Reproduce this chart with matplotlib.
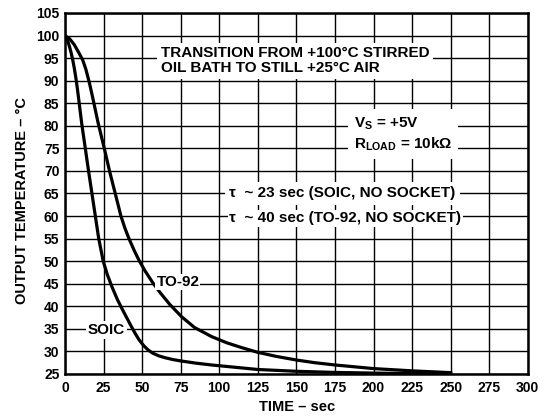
import matplotlib
matplotlib.use('Agg')
import matplotlib.pyplot as plt

plt.rcParams['font.family'] = ['Liberation Sans', 'DejaVu Sans']
plt.rcParams['mathtext.fontset'] = 'custom'
plt.rcParams['mathtext.rm'] = 'Liberation Sans:bold'
plt.rcParams['mathtext.bf'] = 'Liberation Sans:bold'

# cooling curves (time in s, temperature in °C)
soic_t = [0, 1, 2, 3, 4, 5, 6, 7, 8, 9, 10, 11, 13.2, 15.3, 17.5, 19.7, 21.9,
          24.8, 27.5, 30.5, 34, 38, 42, 45, 48, 51, 54, 57, 61, 65, 70, 75,
          85, 95, 110, 125, 150, 175, 200, 225, 250]
soic_temp = [100, 99.4, 98.6, 97.5, 96.2, 94.7, 92.9, 90.8, 88.4, 85.7, 82.9, 80.2, 75, 70, 65, 60, 55,
             50, 47, 44.3, 41.5, 38.8, 36.2, 34.3, 32.6, 31.3, 30.3, 29.6, 29.0, 28.6, 28.2, 27.9,
             27.4, 27.0, 26.5, 26.0, 25.6, 25.35, 25.2, 25.1, 25.0]

to92_t = [0, 3, 6, 9, 11.5, 13.5, 15.8, 17.9, 21.4, 25.5, 28.9, 32.6, 36.3, 39,
          41.5, 45, 48, 52, 57, 62, 68, 75.6, 84, 95, 105, 115, 125, 137, 150,
          162, 175, 200, 225, 250]
to92_temp = [100, 99.3, 98, 96.2, 94.6, 92.6, 89.6, 86.4, 80.8, 75, 70, 65, 60, 57.2,
             55, 52.3, 50.2, 47.8, 45.2, 42.9, 40.4, 37.7, 35.3, 33.3, 31.9, 30.8, 29.8, 28.9, 28.1,
             27.5, 27.0, 26.2, 25.7, 25.3]

x_ticks = list(range(0, 301, 25))
y_ticks = list(range(25, 106, 5))

fig = plt.figure(figsize=(5.55, 4.19), dpi=100)
ax = fig.add_axes([0.117, 0.1074, 0.834, 0.8616])

ax.plot(soic_t, soic_temp, color='black', lw=2.3, zorder=4,
        solid_joinstyle='round')
ax.plot(to92_t, to92_temp, color='black', lw=2.3, zorder=4,
        solid_joinstyle='round')

ax.set_xlim(0, 300)
ax.set_ylim(25, 105)
ax.set_xticks(x_ticks)
ax.set_yticks(y_ticks)
ax.grid(True, color='black', lw=1.0)
ax.set_axisbelow(True)
ax.tick_params(length=0, labelsize=10)
ax.tick_params(axis='x', pad=5)
ax.tick_params(axis='y', pad=4)
for lab in ax.get_xticklabels() + ax.get_yticklabels():
    lab.set_fontweight('bold')
for s in ax.spines.values():
    s.set_linewidth(1.8)

ax.text(62, 94.4, 'TRANSITION FROM +100°C STIRRED\nOIL BATH TO STILL +25°C AIR',
        ha='left', va='center', fontsize=11, fontweight='bold', linespacing=1.1,
        bbox=dict(facecolor='white', edgecolor='none', pad=2.5), zorder=5)
ax.text(187.3, 78.2, 'V$_{\\rm S}$ = +5V\nR$_{\\rm LOAD}$ = 10kΩ',
        ha='left', va='center', fontsize=11, fontweight='bold', linespacing=1.25,
        bbox=dict(facecolor='white', edgecolor='none', pad=4.5), zorder=5)
ax.text(106.5, 65.0, 'τ  ~ 23 sec (SOIC, NO SOCKET)', ha='left', va='center',
        fontsize=11, fontweight='bold',
        bbox=dict(facecolor='white', edgecolor='none', pad=3.0), zorder=5)
ax.text(106.5, 59.5, 'τ  ~ 40 sec (TO-92, NO SOCKET)', ha='left', va='center',
        fontsize=11, fontweight='bold',
        bbox=dict(facecolor='white', edgecolor='none', pad=1.0), zorder=5)
ax.text(73.2, 45.45, 'TO-92', ha='center', va='center', fontsize=11,
        fontweight='bold',
        bbox=dict(facecolor='white', edgecolor='none', pad=0.8), zorder=5)
ax.text(27, 34.75, 'SOIC', ha='center', va='center', fontsize=11,
        fontweight='bold',
        bbox=dict(facecolor='white', edgecolor='none', pad=1.2), zorder=5)

fig.text(22 / 555, 1 - 200 / 419, 'OUTPUT TEMPERATURE – °C', rotation=90,
         ha='center', va='center', fontsize=10.5, fontweight='bold')
fig.text(297 / 555, 1 - 407 / 419, 'TIME – sec', ha='center', va='center',
         fontsize=10.5, fontweight='bold')

fig.savefig('out.png', dpi=100)
